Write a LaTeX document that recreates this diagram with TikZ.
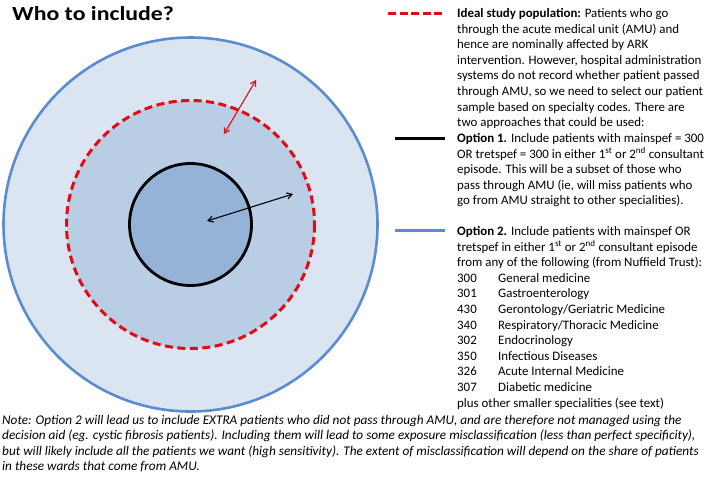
\documentclass[tikz,border=0pt]{standalone}
\usepackage{fontspec}
\setmainfont{Carlito}
\newfontfamily\widefont{Carlito}[FakeStretch=1.19]
\usetikzlibrary{arrows.meta}
\definecolor{outerfill}{RGB}{219,228,241}
\definecolor{midfill}{RGB}{185,205,229}
\definecolor{innerfill}{RGB}{149,179,215}
\definecolor{blueline}{RGB}{88,141,211}
\definecolor{redline}{RGB}{228,10,20}
\newcommand{\wtxt}[1]{\scalebox{1.0}[1]{#1}}
\begin{document}
\begin{tikzpicture}[x=1pt,y=-1pt,
  ln/.style={anchor=base west,inner sep=0pt,font=\fontsize{12.9}{15}\selectfont},
  nt/.style={anchor=base west,inner sep=0pt,font=\fontsize{13.25}{15}\selectfont\itshape},
  dbl/.style={line width=1.1pt,{Straight Barb[length=5pt,width=6pt]}-{Straight Barb[length=5pt,width=6pt]}}]
\useasboundingbox (0,0) rectangle (709,480);
\fill[white] (0,0) rectangle (709,480);
% circles
\coordinate (c) at (190.5,224.5);
\filldraw[fill=outerfill,draw=blueline,line width=2.6pt] (c) circle[radius=187];
\filldraw[fill=midfill,draw=redline,line width=3pt,dash pattern=on 8pt off 4.5pt] (c) circle[radius=124];
\filldraw[fill=innerfill,draw=black,line width=2.8pt] (c) circle[radius=61];
% arrows
\coordinate (ba) at (207,221);
\coordinate (bb) at (293,194);
\draw[dbl,black] (ba) -- (bb);
\coordinate (ra) at (224,134);
\coordinate (rb) at (256,80);
\draw[dbl,redline] (ra) -- (rb);
% title
\node[anchor=base west,inner sep=0pt,font=\widefont\fontsize{20}{22}\selectfont\bfseries] (title) at (12,20) {Who to include?};
% legend lines
\coordinate (l1a) at (388,13); \coordinate (l1b) at (442,13);
\draw[redline,line width=3pt,dash pattern=on 8pt off 3.5pt] (l1a) -- (l1b);
\coordinate (l2a) at (395,138); \coordinate (l2b) at (445,138);
\draw[black,line width=3pt] (l2a) -- (l2b);
\coordinate (l3a) at (395,230); \coordinate (l3b) at (445,230);
\draw[blueline,line width=3pt] (l3a) -- (l3b);
% ideal text
\node[ln] (i1) at (457,17.5) {\wtxt{\textbf{Ideal study population:} Patients who go}};
\node[ln] (i2) at (457,33.1) {\wtxt{through the acute medical unit (AMU) and}};
\node[ln] (i3) at (457,48.7) {\wtxt{hence are nominally affected by ARK}};
\node[ln] (i4) at (457,64.3) {\wtxt{intervention. However, hospital administration}};
\node[ln] (i5) at (457,79.9) {\wtxt{systems do not record whether patient passed}};
\node[ln] (i6) at (457,95.5) {\wtxt{through AMU, so we need to select our patient}};
\node[ln] (i7) at (457,111.1) {\wtxt{sample based on specialty codes. There are}};
\node[ln] (i8) at (457,126.7) {\wtxt{two approaches that could be used:}};
% option 1
\node[ln] (o1) at (457,142.5) {\wtxt{\textbf{Option 1.} Include patients with mainspef = 300}};
\node[ln] (o2) at (457,158) {\wtxt{OR tretspef = 300 in either 1\textsuperscript{st} or 2\textsuperscript{nd} consultant}};
\node[ln] (o3) at (457,173.5) {\wtxt{episode. This will be a subset of those who}};
\node[ln] (o4) at (457,189) {\wtxt{pass through AMU (ie, will miss patients who}};
\node[ln] (o5) at (457,204.5) {\wtxt{go from AMU straight to other specialities).}};
% option 2
\node[ln] (p1) at (457,235.5) {\wtxt{\textbf{Option 2.} Include patients with mainspef OR}};
\node[ln] (p2) at (457,251.1) {\wtxt{tretspef in either 1\textsuperscript{st} or 2\textsuperscript{nd} consultant episode}};
\node[ln] (p3) at (457,266.7) {\wtxt{from any of the following (from Nuffield Trust):}};
\node[ln] (n1) at (457,282.3) {\wtxt{300}}; \node[ln] (s1) at (498,282.3) {\wtxt{General medicine}};
\node[ln] (n2) at (457,297.9) {\wtxt{301}}; \node[ln] (s2) at (498,297.9) {\wtxt{Gastroenterology}};
\node[ln] (n3) at (457,313.5) {\wtxt{430}}; \node[ln] (s3) at (498,313.5) {\wtxt{Gerontology/Geriatric Medicine}};
\node[ln] (n4) at (457,329.1) {\wtxt{340}}; \node[ln] (s4) at (498,329.1) {\wtxt{Respiratory/Thoracic Medicine}};
\node[ln] (n5) at (457,344.7) {\wtxt{302}}; \node[ln] (s5) at (498,344.7) {\wtxt{Endocrinology}};
\node[ln] (n6) at (457,360.3) {\wtxt{350}}; \node[ln] (s6) at (498,360.3) {\wtxt{Infectious Diseases}};
\node[ln] (n7) at (457,375.9) {\wtxt{326}}; \node[ln] (s7) at (498,375.9) {\wtxt{Acute Internal Medicine}};
\node[ln] (n8) at (457,391.5) {\wtxt{307}}; \node[ln] (s8) at (498,391.5) {\wtxt{Diabetic medicine}};
\node[ln] (p4) at (457,407.1) {\wtxt{plus other smaller specialities (see text)}};
% note
\node[nt] (t1) at (2,424) {Note: Option 2 will lead us to include EXTRA patients who did not pass through AMU, and are therefore not managed using the};
\node[nt] (t2) at (2,439.5) {decision aid (eg. cystic fibrosis patients). Including them will lead to some exposure misclassification (less than perfect specificity),};
\node[nt] (t3) at (2,455) {but will likely include all the patients we want (high sensitivity). The extent of misclassification will depend on the share of patients};
\node[nt] (t4) at (2,470.5) {in these wards that come from AMU.};
\end{tikzpicture}
\end{document}
